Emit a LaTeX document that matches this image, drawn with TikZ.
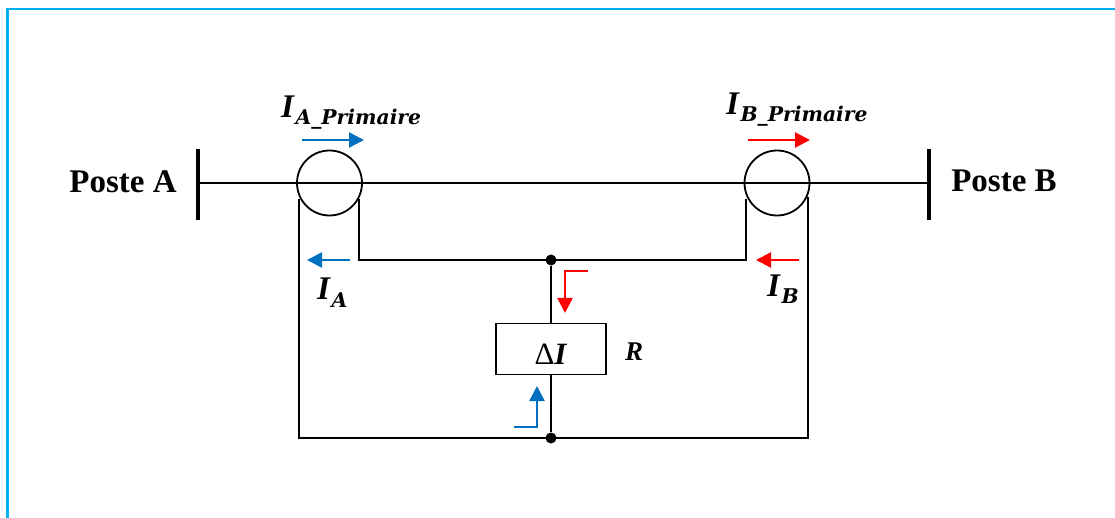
\documentclass[tikz,border=0pt]{standalone}
\usepackage{fontspec}
\setmainfont{Liberation Serif}
\newfontfamily\subfont{DejaVu Serif}
\usetikzlibrary{arrows.meta}
\definecolor{framecol}{RGB}{0,176,240}
\definecolor{blueflow}{RGB}{0,112,192}
\newcommand{\curlab}[1]{\fontsize{33}{34}\selectfont I\kern1.5pt\raisebox{-7pt}{\subfont\bfseries\itshape\fontsize{20.3}{21}\selectfont #1}}
\tikzset{
  wire/.style={line width=1.9pt},
  busbar/.style={line width=3.6pt},
  tc/.style={circle, draw, line width=1.8pt, minimum size=65pt, inner sep=0pt},
  flow/.style={line width=2.3pt, -{Triangle[length=15pt,width=15pt]}},
  dot/.style={circle, fill, minimum size=11pt, inner sep=0pt},
  lab/.style={inner sep=0pt, font=\bfseries\itshape},
  post/.style={inner sep=0pt, font=\bfseries\fontsize{33}{34}\selectfont}
}
\begin{document}
\begin{tikzpicture}[x=1pt,y=-1pt]
\useasboundingbox (0,0) rectangle (1115,518);
\draw[framecol, line width=2.5pt] (7.5,518) -- (7.5,9) -- (1115,9);
% busbars
\coordinate (barAt) at (198,149);
\coordinate (barAb) at (198,220);
\coordinate (barAm) at (198,183);
\coordinate (barBt) at (929,149);
\coordinate (barBb) at (929,220);
\coordinate (barBm) at (929,183);
\draw[busbar] (barAt) -- (barAb);
\draw[busbar] (barBt) -- (barBb);
\node[post] (posteA) at (123,182){Poste A};
\node[post] (posteB) at (1004,181){Poste B};
% transformers
\node[tc] (tcA) at (329.5,183){};
\node[tc] (tcB) at (777,183){};
\draw[wire] (barAm) -- (barBm);
% secondary wires
\coordinate (aL) at (299,199);
\coordinate (aR) at (359,199);
\coordinate (bL) at (746,199);
\coordinate (bR) at (808,197);
\node[dot] (top) at (551,260){};
\node[dot] (bot) at (551,438){};
\node[draw, line width=1.8pt, minimum width=110pt, minimum height=51pt, inner sep=0pt] (relay) at (551,349){};
\draw[wire] (aR) |- (top.center);
\draw[wire] (bL) |- (top.center);
\draw[wire] (aL) |- (bot.center);
\draw[wire] (bR) |- (bot.center);
\draw[wire] (top) -- (relay);
\draw[wire] (relay) -- (bot);
\node[inner sep=0pt, anchor=base] (deltaI) at (550.5,364){\fontsize{31}{32}\selectfont Δ{\bfseries\itshape I}};
\node[lab, anchor=base] (rlab) at (634,360){\fontsize{27}{28}\selectfont R};
% currents
\coordinate (pAs) at (302,140);
\coordinate (pAe) at (364,140);
\coordinate (pBs) at (748,140);
\coordinate (pBe) at (810,140);
\coordinate (iAs) at (350,260);
\coordinate (iAe) at (307,260);
\coordinate (iBs) at (799,260);
\coordinate (iBe) at (756,260);
\draw[flow, blueflow] (pAs) -- (pAe);
\draw[flow, red] (pBs) -- (pBe);
\draw[flow, blueflow] (iAs) -- (iAe);
\draw[flow, red] (iBs) -- (iBe);
\coordinate (rs) at (588,271);
\coordinate (rk) at (565,271);
\coordinate (re) at (565,313);
\coordinate (bs) at (514,427);
\coordinate (bk) at (537,427);
\coordinate (be) at (537,386);
\draw[flow, red] (rs) -- (rk) -- (re);
\draw[flow, blueflow] (bs) -- (bk) -- (be);
% labels
\node[lab, anchor=base west] (lpA) at (281,118){\curlab{A\_Primaire}};
\node[lab, anchor=base west] (lpB) at (726,115){\curlab{B\_Primaire}};
\node[lab, anchor=base west] (lA) at (317,300){\curlab{A}};
\node[lab, anchor=base west] (lB) at (767,297){\curlab{B}};
\end{tikzpicture}
\end{document}
